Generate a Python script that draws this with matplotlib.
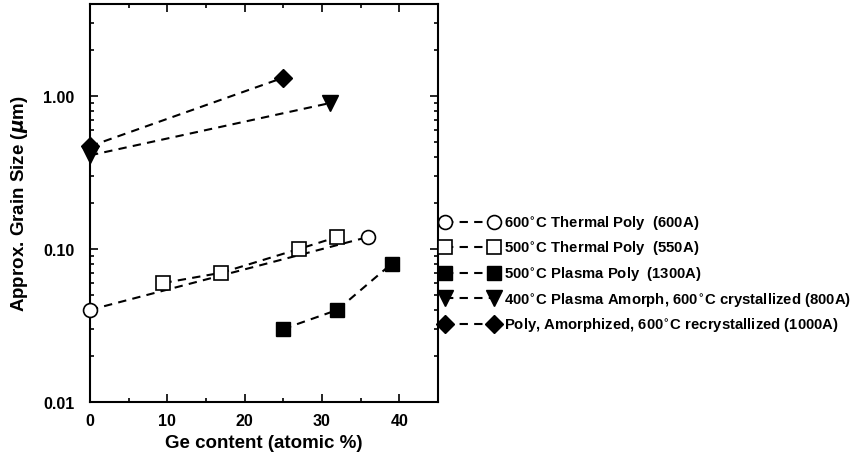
import matplotlib.pyplot as plt
from matplotlib.ticker import FixedLocator, NullFormatter, LogLocator, MultipleLocator

plt.rcParams['font.family'] = ['Liberation Sans', 'DejaVu Sans']
plt.rcParams['font.weight'] = 'bold'

# data
thermal600_x = [0, 36]
thermal600_y = [0.04, 0.12]
thermal500_x = [9.5, 17, 27, 32]
thermal500_y = [0.06, 0.07, 0.10, 0.12]
plasma500_x = [25, 32, 39]
plasma500_y = [0.03, 0.04, 0.08]
amorph400_x = [0, 31]
amorph400_y = [0.41, 0.90]
amorphized_x = [0, 25]
amorphized_y = [0.47, 1.32]

labels = [
    "600$^{\\circ}$C Thermal Poly  (600A)",
    "500$^{\\circ}$C Thermal Poly  (550A)",
    "500$^{\\circ}$C Plasma Poly  (1300A)",
    "400$^{\\circ}$C Plasma Amorph, 600$^{\\circ}$C crystallized (800A)",
    "Poly, Amorphized, 600$^{\\circ}$C recrystallized (1000A)",
]
x_ticks = [0, 10, 20, 30, 40]
y_ticks = [0.01, 0.1, 1.0]
y_tick_labels = ["0.01", "0.10", "1.00"]

fig = plt.figure(figsize=(8.62, 4.6), dpi=100)
ax = fig.add_axes([0.1044, 0.124, 0.4036, 0.865])

ls = (0, (4, 3))
common = dict(color='black', ls=ls, lw=1.5, mec='black', clip_on=False, zorder=3)
ax.plot(thermal600_x, thermal600_y, marker='o', ms=10, mfc='white', mew=1.2,
        label=labels[0], **common)
ax.plot(thermal500_x, thermal500_y, marker='s', ms=9.5, mfc='white', mew=1.2,
        label=labels[1], **common)
ax.plot(plasma500_x, plasma500_y, marker='s', ms=9.5, mfc='black',
        label=labels[2], **common)
ax.plot(amorph400_x, amorph400_y, marker='v', ms=11, mfc='black',
        label=labels[3], **common)
ax.plot(amorphized_x, amorphized_y, marker='D', ms=9, mfc='black',
        label=labels[4], **common)

ax.set_yscale('log')
ax.set_xlim(0, 45)
ax.set_ylim(0.01, 4)
ax.xaxis.set_major_locator(FixedLocator(x_ticks))
ax.xaxis.set_minor_locator(MultipleLocator(5))
ax.yaxis.set_major_locator(FixedLocator(y_ticks))
ax.set_yticklabels(y_tick_labels)
ax.yaxis.set_minor_locator(LogLocator(base=10, subs=range(2, 10)))
ax.yaxis.set_minor_formatter(NullFormatter())
ax.tick_params(which='both', direction='in', top=True, right=True, width=1.2)
ax.tick_params(which='major', length=6, labelsize=11.5)
ax.tick_params(axis='y', which='major', pad=11)
ax.tick_params(axis='x', which='major', pad=8)
ax.tick_params(which='minor', length=3)
for sp in ax.spines.values():
    sp.set_linewidth(1.5)

ax.set_xlabel("Ge content (atomic %)", fontsize=13.5, fontweight='bold', labelpad=4)
ax.set_ylabel("Approx. Grain Size ($\\mu$m)", fontsize=13.5, fontweight='bold', labelpad=10)

ax.legend(loc='upper left', bbox_to_anchor=(0.99, 0.49), frameon=False, numpoints=2,
          handlelength=3.9, handletextpad=0.35, labelspacing=0.45, borderaxespad=0,
          prop={'size': 10.7, 'weight': 'bold'})

fig.savefig('out.png', dpi=100)
